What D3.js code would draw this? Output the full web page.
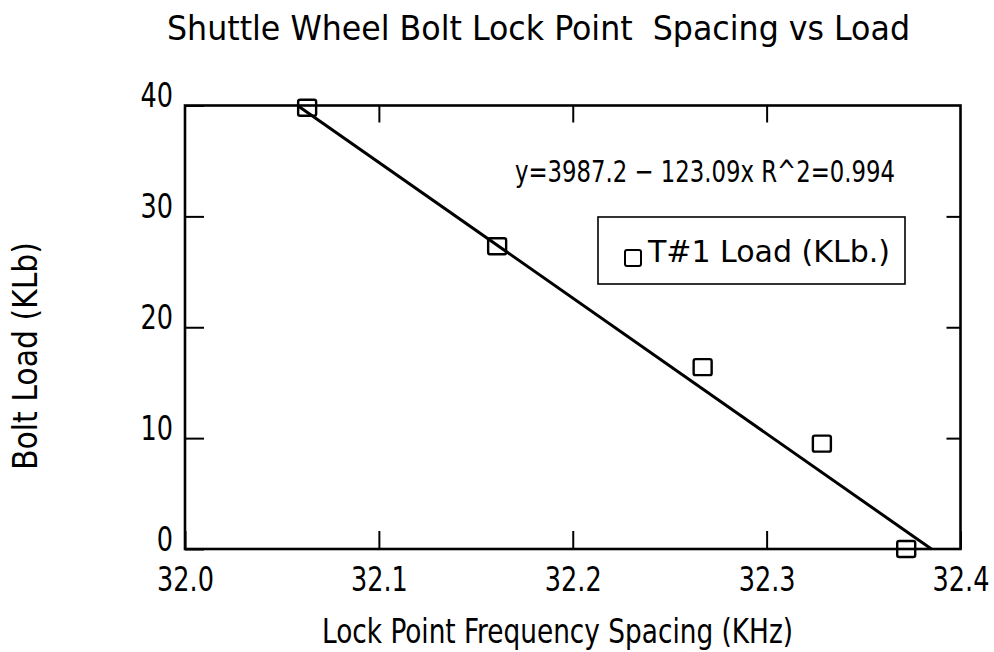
<!DOCTYPE html>
<html>
<head>
<meta charset="utf-8">
<title>Shuttle Wheel Bolt Lock Point Spacing vs Load</title>
<style>
  body { margin: 0; background: #fff; }
  svg { display: block; }
  text {
    font-family: 'DejaVu Sans Condensed', 'DejaVu Sans', sans-serif;
    fill: #000;
    white-space: pre;
  }
  .tick line { stroke: #000; stroke-width: 2; }
</style>
</head>
<body>
<div id="viz"></div>
<script src="https://d3js.org/d3.v7.min.js"></script>
<script>
// data
var spacing = [32.063, 32.161, 32.267, 32.3285, 32.372];   // KHz
var load    = [39.8, 27.3, 16.4, 9.5, 0];                 // KLb
// fitted line, end points
var fitX = [32.058, 32.385];
var fitY = [40, 0];

var xTicks = [32.0, 32.1, 32.2, 32.3, 32.4];
var yTicks = [0, 10, 20, 30, 40];
var xDomain = [32.0, 32.4];
var yDomain = [0, 40];

var titleText = 'Shuttle Wheel Bolt Lock Point  Spacing vs Load';
var xLabel = 'Lock Point Frequency Spacing (KHz)';
var yLabel = 'Bolt Load (KLb)';
var eqText = 'y=3987.2 \u2212 123.09x R^2=0.994';
var seriesName = 'T#1 Load (KLb.)';

var W = 994, H = 652;
var margin = {top: 105.5, right: 33.5, bottom: 103, left: 185};
var width = W - margin.left - margin.right,
    height = H - margin.top - margin.bottom;

var x = d3.scaleLinear().domain(xDomain).range([0, width]);
var y = d3.scaleLinear().domain(yDomain).range([height, 0]);

var svg = d3.select('#viz').append('svg')
    .attr('width', W)
    .attr('height', H);

// squeeze text to a narrow look, either to a given width or by a factor
function squeeze(sel, w, k) {
  sel.each(function() {
    var len = w ? w : this.getComputedTextLength() * k;
    d3.select(this).attr('textLength', len).attr('lengthAdjust', 'spacingAndGlyphs');
  });
}

var g = svg.append('g')
    .attr('transform', 'translate(' + margin.left + ',' + margin.top + ')');

// axes, ticks pointing in
var fmt = d3.format('.1f');
var xAxis = g.append('g')
    .attr('transform', 'translate(0,' + height + ')')
    .call(d3.axisBottom(x).tickValues(xTicks).tickFormat(fmt).tickSize(-18).tickPadding(19));
var yAxis = g.append('g')
    .call(d3.axisLeft(y).tickValues(yTicks).tickSize(-19).tickPadding(12));
g.append('g')
    .call(d3.axisTop(x).tickValues(xTicks.slice(1, -1)).tickFormat('').tickSize(-17));
g.append('g')
    .attr('transform', 'translate(' + width + ',0)')
    .call(d3.axisRight(y).tickValues(yTicks.slice(1, -1)).tickFormat('').tickSize(-14));

g.selectAll('.domain').remove();
g.selectAll('.tick text')
    .attr('font-size', 33)
    .attr('font-family', null);
yAxis.selectAll('.tick text').attr('dy', '0.04em');
squeeze(g.selectAll('.tick text'), null, 0.86);

// frame
g.append('rect')
    .attr('width', width)
    .attr('height', height)
    .attr('fill', 'none')
    .attr('stroke', '#000')
    .attr('stroke-width', 2.6);

// markers
var pts = spacing.map(function(d, i) { return {x: d, y: load[i]}; });
g.selectAll('.pt')
    .data(pts)
    .enter().append('rect')
    .attr('class', 'pt')
    .attr('x', function(d) { return x(d.x) - 9; })
    .attr('y', function(d) { return y(d.y) - 8; })
    .attr('width', 18)
    .attr('height', 16)
    .attr('rx', 2)
    .attr('fill', 'none')
    .attr('stroke', '#000')
    .attr('stroke-width', 2.4);

// fitted line
var line = d3.line()
    .x(function(d) { return x(d[0]); })
    .y(function(d) { return y(d[1]); });
g.append('path')
    .datum(fitX.map(function(d, i) { return [d, fitY[i]]; }))
    .attr('d', line)
    .attr('fill', 'none')
    .attr('stroke', '#000')
    .attr('stroke-width', 3);

// equation
svg.append('text')
    .attr('x', 515)
    .attr('y', 182)
    .attr('font-size', 31)
    .text(eqText)
    .call(squeeze, 380);

// legend
var lg = svg.append('g');
lg.append('rect')
    .attr('x', 598).attr('y', 217)
    .attr('width', 307).attr('height', 67)
    .attr('fill', 'none')
    .attr('stroke', '#000')
    .attr('stroke-width', 1.6);
lg.append('rect')
    .attr('x', 625).attr('y', 250)
    .attr('width', 16).attr('height', 16)
    .attr('rx', 2)
    .attr('fill', 'none')
    .attr('stroke', '#000')
    .attr('stroke-width', 2);
lg.append('text')
    .attr('x', 648)
    .attr('y', 262)
    .attr('font-size', 31)
    .text(seriesName)
    .call(squeeze, 242);

// title and axis labels
svg.append('text')
    .attr('x', 167)
    .attr('y', 40)
    .attr('font-size', 34)
    .text(titleText)
    .call(squeeze, 743);

svg.append('text')
    .attr('x', 322)
    .attr('y', 643)
    .attr('font-size', 34)
    .text(xLabel)
    .call(squeeze, 471);

svg.append('text')
    .attr('transform', 'translate(37,356) rotate(-90)')
    .attr('text-anchor', 'middle')
    .attr('font-size', 34)
    .text(yLabel)
    .call(squeeze, 228);
</script>
</body>
</html>
